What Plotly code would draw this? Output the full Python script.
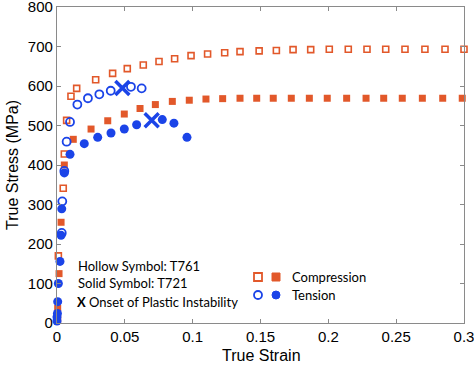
import plotly.graph_objects as go

# ---- data ----
comp_hollow_x = [0.0003, 0.001, 0.0046, 0.0054, 0.0071, 0.0103, 0.0145, 0.0285, 0.041, 0.0518,
                 0.0636, 0.0752, 0.0867, 0.0988, 0.111, 0.1236, 0.1349, 0.149, 0.1617, 0.174,
                 0.187, 0.2007, 0.2147, 0.2285, 0.2423, 0.2565, 0.2712, 0.286, 0.3]
comp_hollow_y = [10, 170, 341, 428, 513, 574, 594, 616, 632, 644,
                 653, 662, 669, 677, 681, 684, 687, 689, 690, 692,
                 692, 693, 693, 693, 693, 693, 693, 693, 693]

comp_solid_x = [0.0003, 0.0005, 0.0015, 0.003, 0.0054, 0.012, 0.0251, 0.0374, 0.0496, 0.0612,
                0.0725, 0.085, 0.0975, 0.1098, 0.1221, 0.1349, 0.1472, 0.1594, 0.1727, 0.186,
                0.1992, 0.2135, 0.2278, 0.2408, 0.2545, 0.2693, 0.2843, 0.2987]
comp_solid_y = [12, 37, 125, 255, 400, 465, 491, 512, 529, 543,
                553, 561, 564, 567, 568, 569, 569, 569, 569, 569,
                569, 569, 569, 569, 569, 569, 569, 569]

ten_hollow_x = [0.0035, 0.0039, 0.0054, 0.0071, 0.0096, 0.015, 0.0228, 0.0312, 0.0396, 0.0545, 0.0624]
ten_hollow_y = [228, 308, 385, 459, 509, 553, 569, 579, 588, 598, 594]

ten_solid_x = [0.0, 0.0, 0.0003, 0.0005, 0.001, 0.0022, 0.003, 0.0035, 0.0054, 0.0096,
               0.0201, 0.030, 0.0398, 0.0496, 0.0587, 0.0776, 0.0862, 0.0958]
ten_solid_y = [5, 15, 24, 54, 100, 156, 222, 289, 380, 427,
               454, 470, 481, 491, 502, 515, 506, 470]

onset_x = [0.0482, 0.0698]
onset_y = [595, 513]

x_ticks = [0, 0.05, 0.1, 0.15, 0.2, 0.25, 0.3]
x_tick_labels = ["0", "0.05", "0.1", "0.15", "0.2", "0.25", "0.3"]
y_ticks = [0, 100, 200, 300, 400, 500, 600, 700, 800]

ORANGE = "#E2582A"
BLUE = "#1B44E8"

L, R, T, B = 57, 464, 7, 323  # plot area in pixels
W, H = 474, 366

fig = go.Figure()
fig.add_trace(go.Scatter(x=comp_hollow_x, y=comp_hollow_y, mode="markers", cliponaxis=False,
                         marker=dict(symbol="square-open", size=6, color=ORANGE,
                                     line=dict(width=1.6, color=ORANGE))))
fig.add_trace(go.Scatter(x=comp_solid_x, y=comp_solid_y, mode="markers", cliponaxis=False,
                         marker=dict(symbol="square", size=7, color=ORANGE)))
fig.add_trace(go.Scatter(x=ten_hollow_x, y=ten_hollow_y, mode="markers", cliponaxis=False,
                         marker=dict(symbol="circle-open", size=8, color=BLUE,
                                     line=dict(width=1.8, color=BLUE))))
fig.add_trace(go.Scatter(x=ten_solid_x, y=ten_solid_y, mode="markers", cliponaxis=False,
                         marker=dict(symbol="circle", size=9, color=BLUE)))
fig.add_trace(go.Scatter(x=onset_x, y=onset_y, mode="markers",
                         marker=dict(symbol="x-thin", size=14, color=BLUE,
                                     line=dict(width=3.5, color=BLUE))))

tf = dict(family="Liberation Sans, Arial", size=15, color="black")
axis_common = dict(showline=True, linecolor="#8a8a8a", linewidth=1.2, mirror="ticks",
                   ticks="inside", ticklen=4, tickcolor="#8a8a8a", showgrid=False,
                   zeroline=False, automargin=False, tickfont=tf, ticklabeloverflow="allow")

fig.update_layout(
    width=W, height=H,
    margin=dict(l=L, r=W - R, t=T, b=H - B),
    paper_bgcolor="white", plot_bgcolor="white",
    showlegend=False,
    xaxis=dict(range=[0, 0.3], tickvals=x_ticks, ticktext=x_tick_labels, **axis_common),
    yaxis=dict(range=[0, 800], tickvals=y_ticks, **axis_common),
)


def px2paper(px, py):
    return (px - L) / (R - L), (B - py) / (B - T)


# axis titles
ax, ay = px2paper(261, 355)
fig.add_annotation(xref="paper", yref="paper", x=ax, y=ay, xanchor="center", yanchor="middle",
                   text="True Strain", showarrow=False, font=dict(family="Liberation Sans, Arial", size=16, color="black"))
ax, ay = px2paper(12, 165)
fig.add_annotation(xref="paper", yref="paper", x=ax, y=ay, xanchor="center", yanchor="middle", textangle=-90,
                   text="True Stress (MPa)", showarrow=False, font=dict(family="Liberation Sans, Arial", size=16, color="black"))

lf = dict(family="Lato, Open Sans", size=13, color="black")
for (px, py, txt) in [(76, 266, "Hollow Symbol: T761"), (76, 283, "Solid Symbol: T721"),
                      (75, 302, "<b>X</b> Onset of Plastic Instability"),
                      (290, 277, "Compression"), (290, 295, "Tension")]:
    ax, ay = px2paper(px, py)
    fig.add_annotation(xref="paper", yref="paper", x=ax, y=ay, xanchor="left", yanchor="middle",
                       text=txt, showarrow=False, font=lf)

# legend glyphs (decorative shapes)
for cx, cy, kind in [(258, 277, "sq_open"), (276, 277, "sq"), (258, 295, "c_open"), (276, 295, "c")]:
    h = 4
    x0, y0 = px2paper(cx - h, cy + h)
    x1, y1 = px2paper(cx + h, cy - h)
    if kind == "sq_open":
        fig.add_shape(type="rect", xref="paper", yref="paper", x0=x0, y0=y0, x1=x1, y1=y1,
                      line=dict(color=ORANGE, width=1.8), fillcolor="white")
    elif kind == "sq":
        fig.add_shape(type="rect", xref="paper", yref="paper", x0=x0, y0=y0, x1=x1, y1=y1,
                      line=dict(color=ORANGE, width=1), fillcolor=ORANGE)
    elif kind == "c_open":
        fig.add_shape(type="circle", xref="paper", yref="paper", x0=x0, y0=y0, x1=x1, y1=y1,
                      line=dict(color=BLUE, width=1.8), fillcolor="white")
    else:
        fig.add_shape(type="circle", xref="paper", yref="paper", x0=x0, y0=y0, x1=x1, y1=y1,
                      line=dict(color=BLUE, width=1), fillcolor=BLUE)

fig.write_html("out.html", config={"displayModeBar": False},
               post_script="document.body.style.margin='0';document.body.style.overflow='hidden';")
